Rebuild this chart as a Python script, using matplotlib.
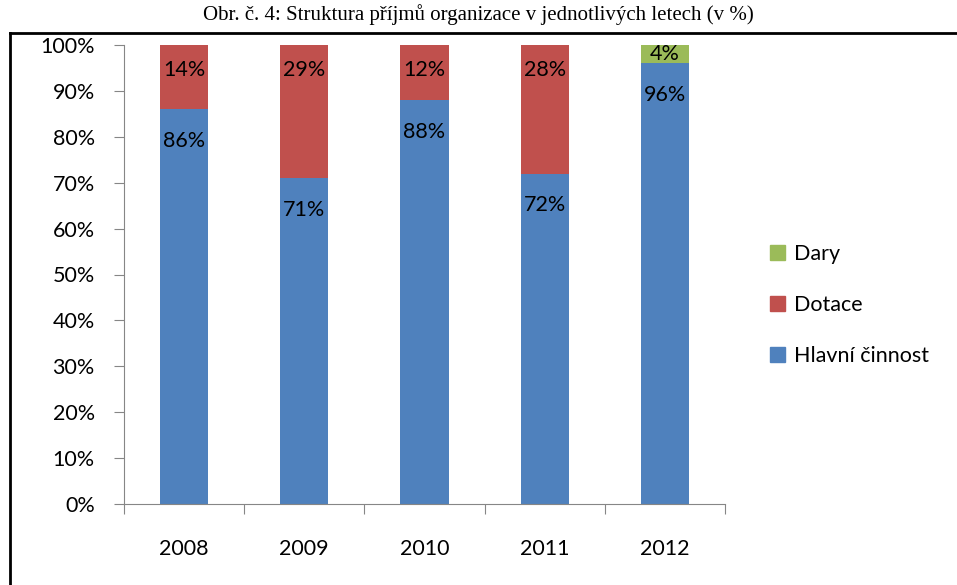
import matplotlib.pyplot as plt
from matplotlib.lines import Line2D
from matplotlib.patches import Patch
import numpy as np

roky = ["2008", "2009", "2010", "2011", "2012"]
hlavni_cinnost = [86, 71, 88, 72, 96]
dotace = [14, 29, 12, 28, 0]
dary = [0, 0, 0, 0, 4]

modra = "#4F81BD"
cervena = "#C0504D"
zelena = "#9BBB59"
seda = "#868686"

plt.rcParams['font.family'] = ['Lato', 'DejaVu Sans']

fig = plt.figure(figsize=(9.57, 5.85), dpi=100)
ax = fig.add_axes([124 / 957, 1 - 504 / 585, (725 - 124) / 957, (504 - 45) / 585])

x = np.arange(len(roky))
sirka = 0.4
ax.bar(x, hlavni_cinnost, sirka, color=modra, label="Hlavní činnost")
ax.bar(x, dotace, sirka, bottom=hlavni_cinnost, color=cervena, label="Dotace")
spodek = np.array(hlavni_cinnost) + np.array(dotace)
ax.bar(x, dary, sirka, bottom=spodek, color=zelena, label="Dary")

# popisky dat - u horniho okraje segmentu
for i in range(len(roky)):
    if hlavni_cinnost[i] > 0:
        ax.annotate("{}%".format(hlavni_cinnost[i]), (x[i], hlavni_cinnost[i]),
                    xytext=(0, -23), textcoords="offset points",
                    ha="center", va="center", fontsize=15.5)
    if dotace[i] > 0:
        ax.annotate("{}%".format(dotace[i]), (x[i], hlavni_cinnost[i] + dotace[i]),
                    xytext=(0, -18), textcoords="offset points",
                    ha="center", va="center", fontsize=15.5)
    if dary[i] > 0:
        ax.text(x[i], spodek[i] + dary[i] / 2, "{}%".format(dary[i]),
                ha="center", va="center", fontsize=15.5)

ax.set_xlim(-0.5, 4.5)
ax.set_ylim(0, 100)
ax.set_yticks(np.arange(0, 101, 10))
ax.set_yticklabels(["{}%".format(v) for v in range(0, 101, 10)], fontsize=15.5)
ax.set_xticks(np.arange(-0.5, 5, 1))
ax.set_xticklabels([])
ax.set_xticks(x, minor=True)
ax.set_xticklabels(roky, minor=True, fontsize=15.5)
ax.tick_params(axis="x", which="major", length=7, color=seda, direction="out")
ax.tick_params(axis="x", which="minor", length=0, pad=25)
ax.tick_params(axis="y", length=7, color=seda, direction="out", pad=14)

for s in ["top", "right"]:
    ax.spines[s].set_visible(False)
ax.spines["left"].set_color(seda)
ax.spines["bottom"].set_color(seda)

handles = [Patch(color=zelena, label="Dary"),
           Patch(color=cervena, label="Dotace"),
           Patch(color=modra, label="Hlavní činnost")]
fig.legend(handles=handles, loc="center left", bbox_to_anchor=(751 / 957, 1 - 305 / 585),
           frameon=False, fontsize=15.5, handlelength=0.7, handleheight=0.7,
           handletextpad=0.4, labelspacing=1.45)

# ramecek a nadpis
fig.add_artist(Line2D([10 / 957, 10 / 957], [0, 1 - 33 / 585], color="black", lw=2))
fig.add_artist(Line2D([10 / 957, 1], [1 - 33 / 585, 1 - 33 / 585], color="black", lw=2))
fig.text(478 / 957, 1 - 20 / 585, "Obr. č. 4: Struktura příjmů organizace v jednotlivých letech (v %)",
         ha="center", va="baseline", fontsize=15, family="Liberation Serif")

plt.savefig("out.png", dpi=100)
